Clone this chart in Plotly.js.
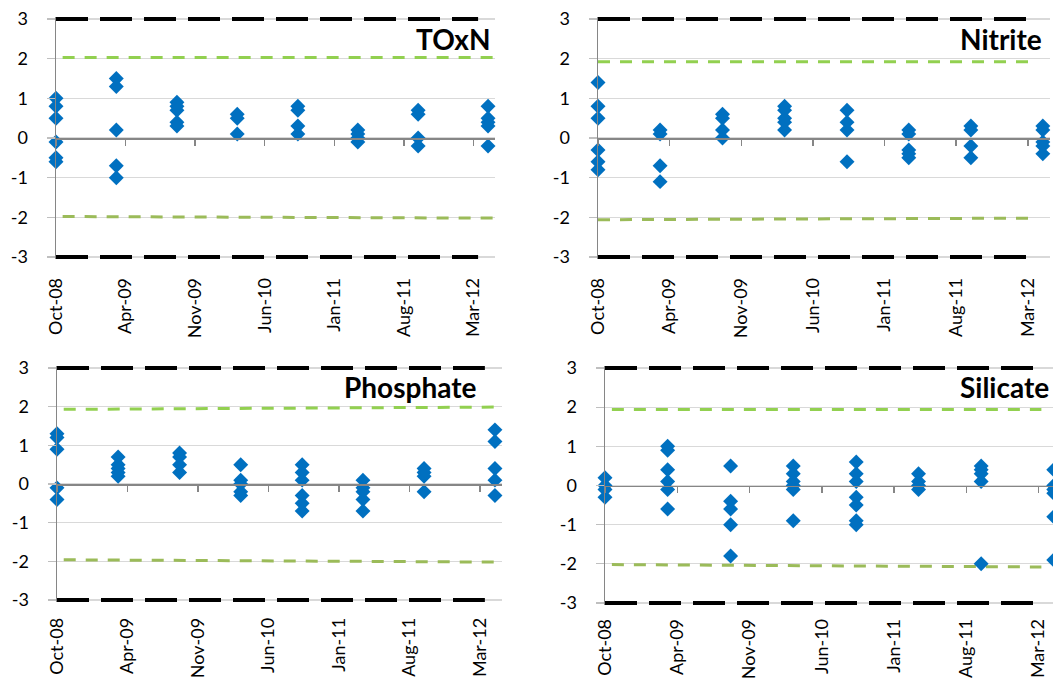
<!DOCTYPE html>
<html>
<head>
<meta charset="utf-8">
<script src="https://cdn.plot.ly/plotly-3.0.1.min.js"></script>
<style>
html,body{margin:0;padding:0;overflow:hidden;background:#fff;}
#chart{width:1080px;height:679px;}
</style>
</head>
<body>
<div id="chart"></div>
<script>
// ---- data ----
const sampleDates = ['2008-10-01','2009-04-01','2009-10-01','2010-04-01','2010-10-01','2011-03-31','2011-09-29','2012-04-27'];

const toxnValues = [[1.0,0.8,0.5,-0.1,-0.5,-0.6],[1.5,1.3,0.2,-0.7,-1.0],[0.9,0.8,0.7,0.4,0.3],[0.6,0.5,0.1],[0.8,0.7,0.3,0.1],[0.2,0.1,0.0,-0.1],[0.7,0.6,0.0,-0.2],[0.8,0.5,0.4,0.3,-0.2]];
const nitriteValues = [[1.4,0.8,0.5,-0.3,-0.6,-0.8],[0.2,0.1,-0.7,-1.1],[0.6,0.5,0.2,0.0],[0.8,0.7,0.5,0.4,0.2],[0.7,0.4,0.2,-0.6],[0.2,0.1,-0.3,-0.4,-0.5],[0.3,0.2,-0.2,-0.5],[0.3,0.2,-0.1,-0.2,-0.4]];
const phosphateValues = [[1.3,1.2,0.9,-0.1,-0.4],[0.7,0.5,0.4,0.3,0.2],[0.8,0.7,0.5,0.3],[0.5,0.1,0.0,-0.2,-0.3],[0.5,0.3,0.1,-0.3,-0.5,-0.7],[0.1,-0.1,-0.2,-0.4,-0.7],[0.4,0.3,0.2,-0.2],[1.4,1.1,0.4,0.1,-0.3]];
const silicateValues = [[0.2,0.0,-0.1,-0.3],[1.0,0.9,0.4,0.1,-0.1,-0.6],[0.5,-0.4,-0.6,-1.0,-1.8],[0.5,0.3,0.1,0.0,-0.1,-0.9],[0.6,0.3,0.1,-0.3,-0.5,-0.9,-1.0],[0.3,0.1,0.0,-0.1],[0.5,0.4,0.3,0.1,-2.0],[0.4,0.0,-0.1,-0.2,-0.8,-1.9]];

const panelNames = ['TOxN','Nitrite','Phosphate','Silicate'];

// y tick values and labels
const yTickValues = [-3,-2,-1,0,1,2,3];
const yTickLabels = ['-3','-2','-1','0','1','2','3'];

// +/-3 limits (start, end)
const outerLimitDates = ['2008-10-01','2012-03-28'];
const upperOuter = [3,3];
const lowerOuter = [-3,-3];

// +/-2 limits per panel (start, end)
const warnDates = {
  TOxN: ['2008-10-21','2012-05-18'],
  Nitrite: ['2008-10-01','2012-03-31'],
  Phosphate: ['2008-10-21','2012-05-12'],
  Silicate: ['2008-10-21','2012-03-22']
};
const upperWarn = {TOxN:[2.03,2.03], Nitrite:[1.92,1.92], Phosphate:[1.93,1.99], Silicate:[1.94,1.94]};
const lowerWarn = {TOxN:[-1.98,-2.02], Nitrite:[-2.06,-2.02], Phosphate:[-1.96,-2.02], Silicate:[-2.02,-2.08]};

const xRange = ['2008-10-01','2012-05-18'];

// ---- layout helpers ----
const W = 1080, H = 679;
const YPAD = 0.06; // small range padding so the limit lines at +/-3 are not clipped
const panelBoxes = [
  {l:56, r:495, t:19, b:257, sx:14},
  {l:598, r:1050, t:19, b:257, sx:14},
  {l:57, r:502, t:368, b:600, sx:11},
  {l:605, r:1061, t:368, b:603, sx:9}
];
const titleSpots = [
  {x:492, y:39, anchor:'right'},
  {x:1044, y:39, anchor:'right'},
  {x:478, y:387, anchor:'right'},
  {x:958, y:387, anchor:'left'}
];
const allValues = [toxnValues, nitriteValues, phosphateValues, silicateValues];
const FONT = 'Lato, "Open Sans", sans-serif';

const traces = [];
const layout = {
  width: W, height: H,
  margin: {l:0, r:0, t:0, b:0},
  paper_bgcolor: '#fff', plot_bgcolor: 'rgba(0,0,0,0)',
  showlegend: false,
  font: {family: FONT, size: 18, color: '#000'},
  annotations: []
};

panelNames.forEach((name, i) => {
  const k = i + 1, ko = i + 5;
  const box = panelBoxes[i];
  const ppu = (box.b - box.t) / 6;
  const top = box.t - YPAD * ppu, bot = box.b + YPAD * ppu;
  const xd = [box.l / W, box.r / W];
  const yd = [1 - bot / H, 1 - top / H];

  const xa = 'x' + k, ya = 'y' + k;
  traces.push({x: outerLimitDates, y: upperOuter, xaxis: xa, yaxis: ya, mode: 'lines',
    line: {color: '#000', width: 4, dash: '32px,12px'}, hoverinfo: 'skip'});
  traces.push({x: outerLimitDates, y: lowerOuter, xaxis: xa, yaxis: ya, mode: 'lines',
    line: {color: '#000', width: 4, dash: '32px,12px'}, hoverinfo: 'skip'});
  traces.push({x: warnDates[name], y: upperWarn[name], xaxis: xa, yaxis: ya, mode: 'lines',
    line: {color: '#92D050', width: 3, dash: '12px,10px'}, hoverinfo: 'skip'});
  traces.push({x: warnDates[name], y: lowerWarn[name], xaxis: xa, yaxis: ya, mode: 'lines',
    line: {color: '#9BBB59', width: 3, dash: '12px,10px'}, hoverinfo: 'skip'});

  const xs = [], ys = [];
  allValues[i].forEach((vals, d) => vals.forEach(v => { xs.push(sampleDates[d]); ys.push(v); }));
  traces.push({x: xs, y: ys, xaxis: 'x' + ko, yaxis: ya, mode: 'markers', cliponaxis: false,
    marker: {symbol: 'diamond', size: 11.5, color: '#0070C0', line: {width: 0}}});

  layout['xaxis' + k] = {
    domain: xd, anchor: ya, type: 'date', range: xRange,
    tick0: '2008-10-01', dtick: 210 * 86400000, tickformat: '%b-%y',
    tickangle: -90, ticks: '', showline: false, showgrid: false, zeroline: false,
    ticklabelstandoff: box.sx, tickfont: {family: FONT, size: 18, color: '#000'}
  };
  layout['xaxis' + ko] = {
    overlaying: xa, anchor: 'free', position: (yd[0] + yd[1]) / 2,
    type: 'date', range: xRange, tick0: '2008-10-01', dtick: 210 * 86400000,
    showticklabels: false, ticks: 'outside', ticklen: 6, tickwidth: 1.5, tickcolor: '#868686',
    showline: true, linecolor: '#868686', linewidth: 1.5, showgrid: false, zeroline: false
  };
  layout['yaxis' + k] = {
    domain: yd, anchor: xa, range: [-3 - YPAD, 3 + YPAD],
    tickmode: 'array', tickvals: yTickValues, ticktext: yTickLabels,
    showgrid: true, gridcolor: '#D9D9D9', gridwidth: 1.3, zeroline: false,
    showline: true, linecolor: '#868686', linewidth: 1.5,
    ticks: 'outside', ticklen: 8, tickcolor: '#BFBFBF', tickwidth: 1.3,
    ticklabelstandoff: 15, tickfont: {family: FONT, size: 18, color: '#000'}
  };

  const ts = titleSpots[i];
  layout.annotations.push({
    text: '<b>' + name + '</b>', xref: 'paper', yref: 'paper',
    x: ts.x / W, y: 1 - ts.y / H, xanchor: ts.anchor, yanchor: 'middle',
    showarrow: false, font: {family: FONT, size: 28, color: '#000'}
  });
});

Plotly.newPlot('chart', traces, layout, {staticPlot: true, displayModeBar: false});
</script>
</body>
</html>
